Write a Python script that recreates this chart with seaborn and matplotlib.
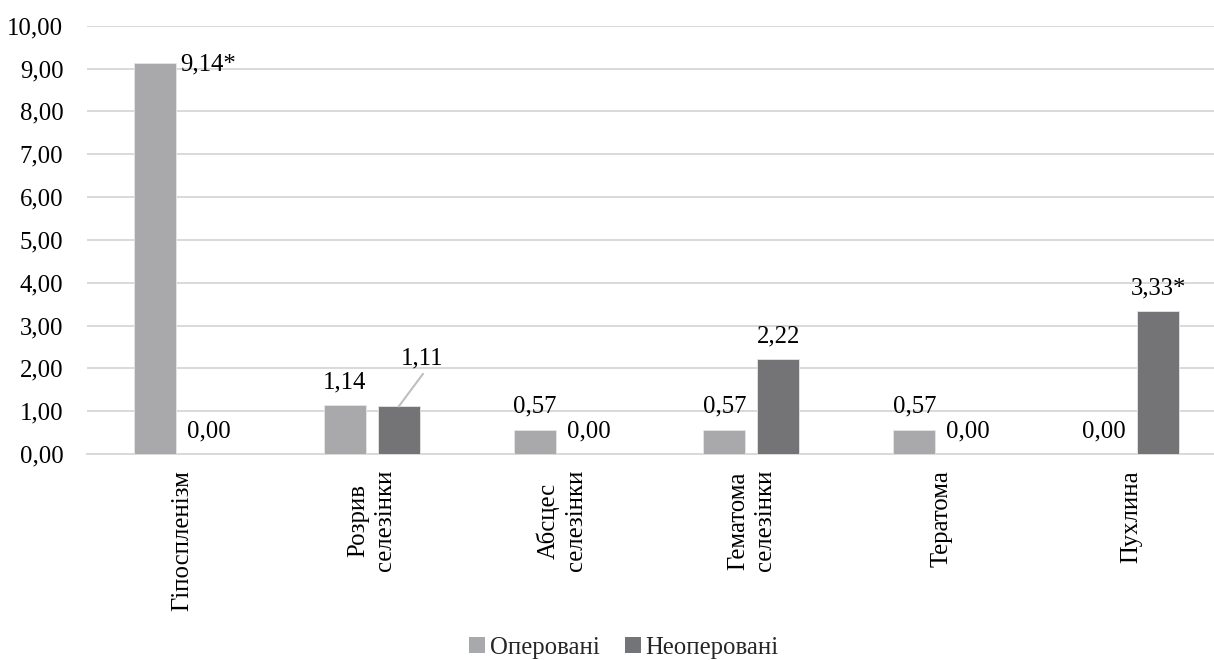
import matplotlib
matplotlib.use("Agg")
import matplotlib.pyplot as plt
from matplotlib.patches import Patch
import seaborn as sns
import pandas as pd

# ---- data ----
categories = ["Гіпоспленізм", "Розрив\nселезінки", "Абсцес\nселезінки",
              "Гематома\nселезінки", "Тератома", "Пухлина"]
groups = ["Оперовані", "Неоперовані"]
operated = [9.14, 1.14, 0.57, 0.57, 0.57, 0.00]
nonoperated = [0.00, 1.11, 0.00, 2.22, 0.00, 3.33]
operated_marks = ["*", "", "", "", "", ""]
nonoperated_marks = ["", "", "", "", "", "*"]
y_ticks = [0, 1, 2, 3, 4, 5, 6, 7, 8, 9, 10]

df = pd.DataFrame({
    "category": categories * 2,
    "value": operated + nonoperated,
    "group": [groups[0]] * len(categories) + [groups[1]] * len(categories),
})

light = "#A8A9AD"
dark = "#737478"
grid_c = "#D9D9D9"

sns.set_theme(style="white")
plt.rcParams["font.family"] = ["Liberation Serif", "DejaVu Serif"]
FS = 17.8

fig = plt.figure(figsize=(12.14, 6.60), dpi=100)
ax = fig.add_axes([87 / 1214, 206 / 660, 1139 / 1214, 428.3 / 660])

sns.barplot(data=df, x="category", y="value", hue="group", order=categories,
            hue_order=groups, palette=[light, dark], width=0.568, gap=0.22,
            edgecolor="#E6E6E6", linewidth=0.6, legend=False, ax=ax, zorder=3)

ax.set_xlim(-0.5, len(categories) - 0.5)
ax.set_ylim(0, 10)
ax.set_yticks(y_ticks)
ax.set_yticklabels([f"{v:.2f}".replace(".", ",") for v in y_ticks], fontsize=FS, color="black")
ax.tick_params(axis="y", length=0, pad=17.0)
ax.tick_params(axis="x", length=0, pad=11.5)
ax.set_xticks(range(len(categories)))
ax.set_xticklabels(categories, rotation=90, fontsize=FS, color="black",
                   ha="center", va="top")
for t in ax.get_xticklabels():
    t.set_multialignment("center")
    t.set_linespacing(1.3)
ax.set_xlabel("")
ax.set_ylabel("")
ax.yaxis.grid(True, color=grid_c, linewidth=1.4, zorder=0)
ax.xaxis.grid(False)
for s in ["top", "right", "left"]:
    ax.spines[s].set_visible(False)
ax.spines["bottom"].set_color(grid_c)
ax.spines["bottom"].set_linewidth(1.4)
ax.spines["bottom"].set_zorder(1)

# ---- data labels ----
all_vals = [operated, nonoperated]
all_marks = [operated_marks, nonoperated_marks]
for gi, cont in enumerate(ax.containers):
    for ci, bar in enumerate(cont):
        v = all_vals[gi][ci]
        txt = f"{v:.2f}".replace(".", ",") + all_marks[gi][ci]
        x = bar.get_x() + bar.get_width() / 2
        h = bar.get_height()
        if gi == 0 and ci == 0:
            ax.annotate(txt, (bar.get_x() + bar.get_width(), h), xytext=(3, -5.5),
                        textcoords="offset points", ha="left", va="baseline",
                        fontsize=FS, color="black", zorder=5)
        elif gi == 1 and ci == 1:
            ax.annotate("", xy=(x, h), xytext=(17.5, 23.5), textcoords="offset points",
                        arrowprops=dict(arrowstyle="-", color="#BFBFBF", lw=1.5,
                                        shrinkA=0, shrinkB=0), zorder=5)
            ax.annotate(txt, (x, h), xytext=(17, 30), textcoords="offset points",
                        ha="center", va="baseline", fontsize=FS, color="black", zorder=5)
        else:
            ax.annotate(txt, (x, h), xytext=(0, 12.2), textcoords="offset points",
                        ha="center", va="baseline", fontsize=FS, color="black", zorder=5)

# ---- legend ----
handles = [Patch(facecolor=light, edgecolor="none"), Patch(facecolor=dark, edgecolor="none")]
fig.legend(handles, groups, loc="center", bbox_to_anchor=(624 / 1214, 1 - 648 / 660),
           ncol=2, frameon=False, fontsize=FS, handlelength=0.62, handleheight=0.62,
           handletextpad=0.2, columnspacing=1.05, borderpad=0, borderaxespad=0)

fig.savefig("out.png", dpi=100, facecolor="white")
